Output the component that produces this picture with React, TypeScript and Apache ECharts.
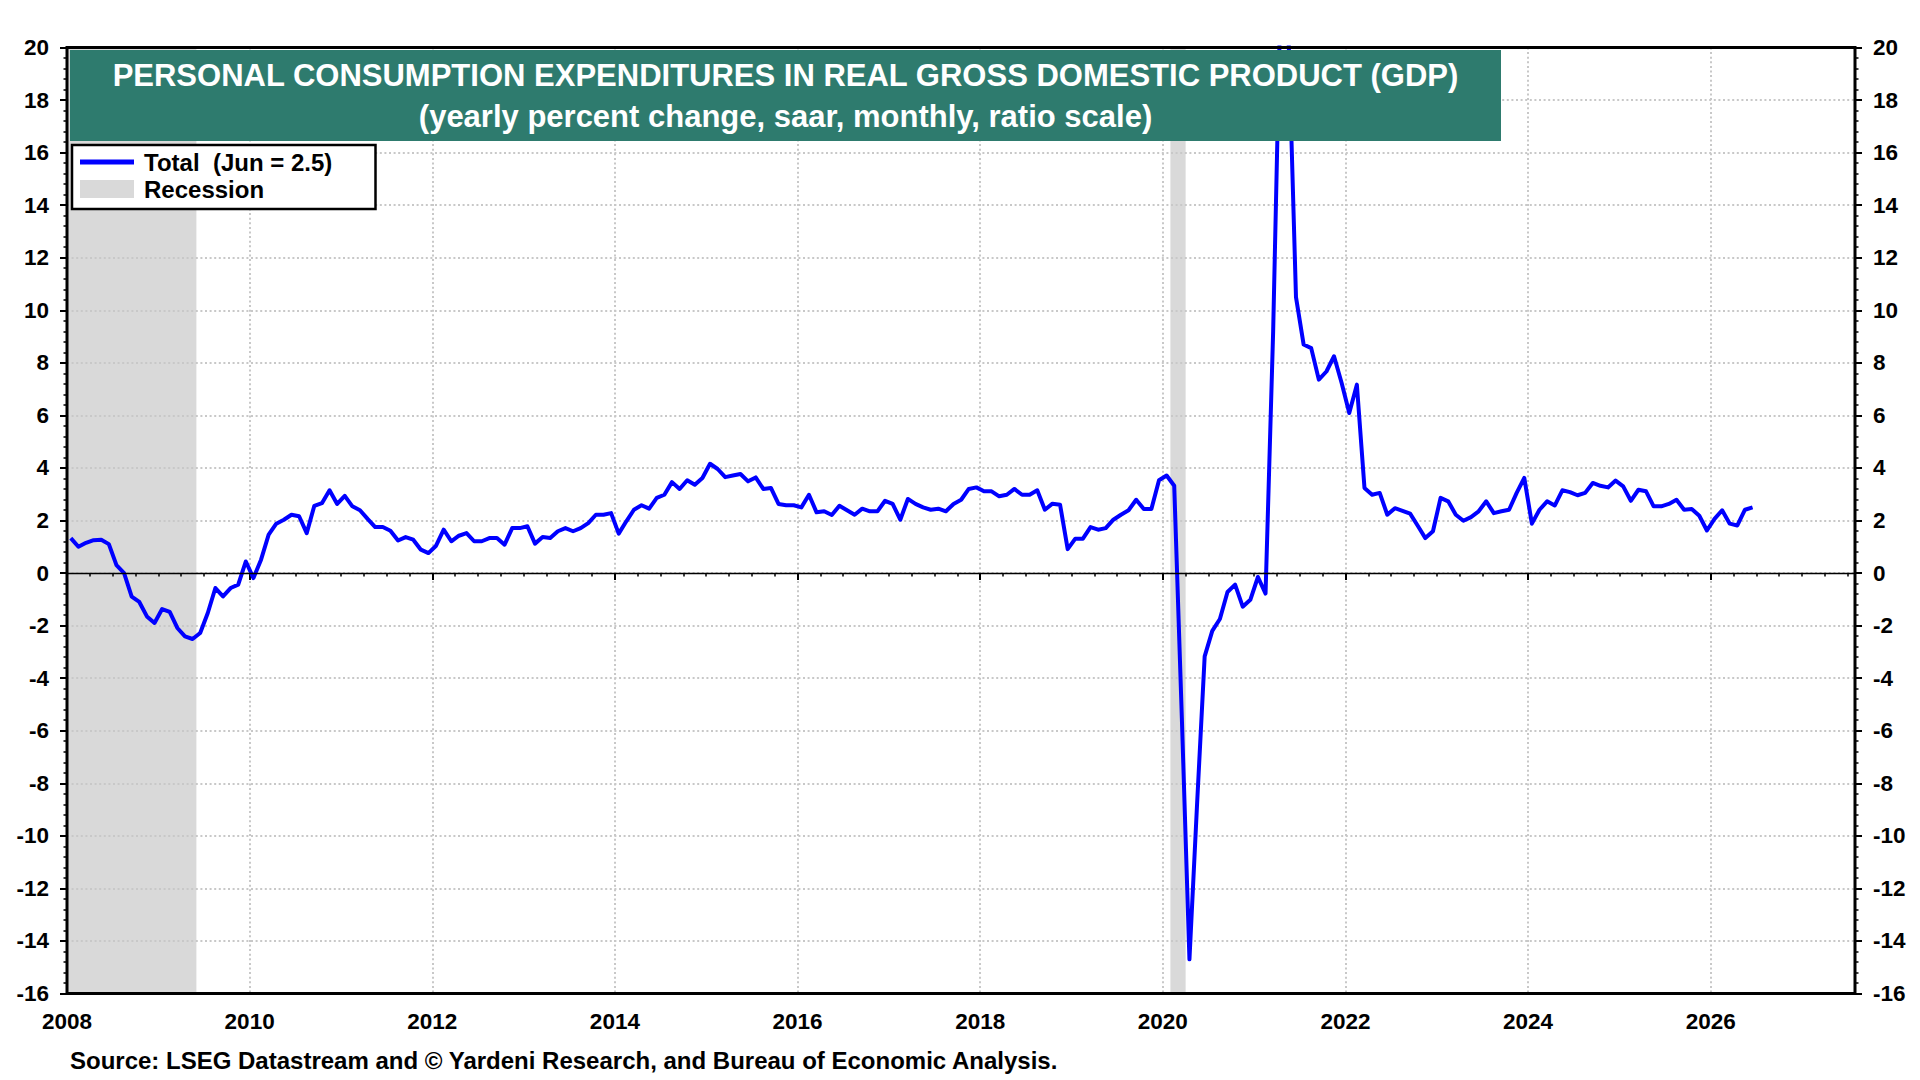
import React, { useEffect, useRef } from "react";
import * as echarts from "echarts";

// Monthly yearly % change, Jan..Dec of each year
const pce2008 = [1.33, 1.0, 1.15, 1.25, 1.27, 1.1, 0.3, 0.0, -0.9, -1.1, -1.65, -1.9];
const pce2009 = [-1.37, -1.48, -2.09, -2.41, -2.51, -2.28, -1.52, -0.57, -0.89, -0.57, -0.44, 0.44];
const pce2010 = [-0.19, 0.51, 1.46, 1.88, 2.03, 2.22, 2.16, 1.52, 2.56, 2.66, 3.15, 2.63];
const pce2011 = [2.94, 2.54, 2.39, 2.06, 1.75, 1.75, 1.61, 1.24, 1.37, 1.27, 0.89, 0.76];
const pce2012 = [1.04, 1.65, 1.21, 1.42, 1.52, 1.21, 1.21, 1.33, 1.33, 1.08, 1.71, 1.71];
const pce2013 = [1.78, 1.12, 1.37, 1.33, 1.59, 1.71, 1.59, 1.71, 1.9, 2.22, 2.22, 2.28];
const pce2014 = [1.5, 1.97, 2.41, 2.58, 2.45, 2.86, 2.98, 3.46, 3.2, 3.53, 3.36, 3.62];
const pce2015 = [4.16, 3.96, 3.65, 3.71, 3.77, 3.49, 3.64, 3.2, 3.24, 2.63, 2.58, 2.58];
const pce2016 = [2.5, 2.98, 2.31, 2.35, 2.21, 2.56, 2.39, 2.22, 2.45, 2.35, 2.35, 2.75];
const pce2017 = [2.63, 2.03, 2.82, 2.63, 2.5, 2.41, 2.45, 2.35, 2.63, 2.79, 3.2, 3.26];
const pce2018 = [3.11, 3.11, 2.92, 2.98, 3.2, 2.98, 2.98, 3.15, 2.41, 2.64, 2.6, 0.91];
const pce2019 = [1.31, 1.31, 1.75, 1.65, 1.71, 2.03, 2.22, 2.39, 2.79, 2.44, 2.44, 3.53];
const pce2020 = [3.71, 3.32, -5.5, -14.7, -8.8, -3.17, -2.2, -1.75, -0.72, -0.44, -1.28, -1.02];
const pce2021 = [-0.15, -0.78, 9.2, 22.4, 20.6, 10.5, 8.7, 8.56, 7.36, 7.67, 8.25, 7.23];
const pce2022 = [6.09, 7.17, 3.24, 2.98, 3.05, 2.22, 2.47, 2.37, 2.26, 1.8, 1.33, 1.59];
const pce2023 = [2.86, 2.73, 2.22, 1.99, 2.13, 2.35, 2.73, 2.28, 2.35, 2.41, 3.05, 3.62];
const pce2024 = [1.88, 2.41, 2.73, 2.57, 3.15, 3.08, 2.96, 3.05, 3.43, 3.32, 3.26, 3.52];
const pce2025 = [3.3, 2.75, 3.17, 3.11, 2.54, 2.54, 2.63, 2.79, 2.41, 2.44, 2.18, 1.62];
const pce2026 = [2.06, 2.39, 1.88, 1.81, 2.41, 2.5];

const startYear = 2008;
const yearlySeries = [
  pce2008, pce2009, pce2010, pce2011, pce2012, pce2013, pce2014, pce2015, pce2016, pce2017,
  pce2018, pce2019, pce2020, pce2021, pce2022, pce2023, pce2024, pce2025, pce2026,
];

// Recession periods (decimal years)
const recessionStart = [2008.0, 2020.083];
const recessionEnd = [2009.417, 2020.25];

const xMin = 2008;
const xMax = 2027.58;
const yMin = -16;
const yMax = 20;
const majorYears = [2008, 2010, 2012, 2014, 2016, 2018, 2020, 2022, 2024, 2026];

const TITLE1 = "PERSONAL CONSUMPTION EXPENDITURES IN REAL GROSS DOMESTIC PRODUCT (GDP)";
const TITLE2 = "(yearly percent change, saar, monthly, ratio scale)";
const LEGEND_LINE = "Total  (Jun = 2.5)";
const LEGEND_REC = "Recession";
const SOURCE = "Source: LSEG Datastream and \u00A9 Yardeni Research, and Bureau of Economic Analysis.";

const FONT = "'Liberation Sans', Arial, Helvetica, sans-serif";

function buildData(): [number, number][] {
  const out: [number, number][] = [];
  yearlySeries.forEach((vals, yi) => {
    vals.forEach((v, mi) => {
      out.push([startYear + yi + (mi + 0.5) / 12, v]);
    });
  });
  return out;
}

function quarterTicks(): number[] {
  const t: number[] = [];
  for (let q = xMin * 4; q <= Math.floor(xMax * 4); q++) {
    const v = q / 4;
    if (v % 2 !== 0) t.push(v);
  }
  return t;
}

export default function App() {
  const ref = useRef<HTMLDivElement>(null);

  useEffect(() => {
    if (!ref.current) return;
    const chart = echarts.init(ref.current, null, { renderer: "svg", width: 1920, height: 1080 });
    const dotted = { color: "#C8C8C8", width: 2, type: [2, 2.6] as any };
    const labelStyle = { fontSize: 22.5, fontWeight: "bold" as const, color: "#000", fontFamily: FONT };

    const option: any = {
      animation: false,
      backgroundColor: "#ffffff",
      grid: {
        left: 67, right: 65, top: 47.5, height: 946,
        show: true, borderColor: "#000", borderWidth: 3, backgroundColor: "transparent", z: 5,
      },
      xAxis: [
        {
          type: "value", min: xMin, max: xMax, interval: 2, position: "bottom", z: 2,
          axisLine: { show: false },
          axisTick: { show: true, length: 7, lineStyle: { color: "#000", width: 2 }, customValues: majorYears },
          axisLabel: { ...labelStyle, margin: 16, customValues: majorYears, formatter: (v: number) => String(v) },
          splitLine: { show: true, lineStyle: dotted },
        },
        {
          type: "value", min: xMin, max: xMax, position: "bottom", z: 2,
          axisLine: { show: false },
          axisTick: { show: true, length: 3.5, lineStyle: { color: "#000", width: 1.5 }, customValues: quarterTicks() },
          axisLabel: { show: false },
          splitLine: { show: false },
        },
      ],
      yAxis: [
        {
          type: "value", min: yMin, max: yMax, interval: 2, position: "left", z: 2,
          axisLine: { show: false },
          axisTick: { show: true, length: 7, lineStyle: { color: "#000", width: 2 } },
          minorTick: { show: true, splitNumber: 5, length: 3.5, lineStyle: { color: "#000", width: 1.5 } },
          axisLabel: { ...labelStyle, margin: 18 },
          splitLine: { show: true, lineStyle: dotted },
          minorSplitLine: { show: false },
        },
        {
          type: "value", min: yMin, max: yMax, interval: 2, position: "right", z: 2,
          axisLine: { show: false },
          axisTick: { show: true, length: 7, lineStyle: { color: "#000", width: 2 } },
          minorTick: { show: true, splitNumber: 5, length: 3.5, lineStyle: { color: "#000", width: 1.5 } },
          axisLabel: { ...labelStyle, margin: 18 },
          splitLine: { show: false },
        },
      ],
      series: [
        {
          name: "Recession", type: "line", data: [], z: 1, silent: true,
          markArea: {
            silent: true,
            itemStyle: { color: "#D9D9D9" },
            data: recessionStart.map((s, i) => [{ xAxis: s }, { xAxis: recessionEnd[i] }]),
          },
        },
        {
          name: "zero", type: "line", data: [], z: 3, silent: true,
          markLine: {
            silent: true, symbol: ["none", "none"], label: { show: false },
            lineStyle: { color: "#000", width: 1.3, type: "solid" },
            data: [{ yAxis: 0 }],
          },
        },
        {
          name: "Total", type: "line", data: buildData(), z: 4,
          showSymbol: false, symbol: "none", clip: true,
          lineStyle: { color: "#0000FF", width: 4, join: "round" },
        },
      ],
      graphic: [
        { type: "rect", z: 10, shape: { x: 70, y: 50, width: 1431, height: 91 }, style: { fill: "#2E7B6E" } },
        {
          type: "text", z: 11, x: 785.5, y: 75.5,
          style: { text: TITLE1, fill: "#fff", fontSize: 31, fontWeight: "bold", fontFamily: FONT, align: "center", verticalAlign: "middle" },
        },
        {
          type: "text", z: 11, x: 785.5, y: 116.5,
          style: { text: TITLE2, fill: "#fff", fontSize: 31, fontWeight: "bold", fontFamily: FONT, align: "center", verticalAlign: "middle" },
        },
        { type: "rect", z: 10, shape: { x: 72, y: 145, width: 303.5, height: 64 }, style: { fill: "#fff", stroke: "#000", lineWidth: 2.5 } },
        { type: "line", z: 11, shape: { x1: 80, y1: 162, x2: 134, y2: 162 }, style: { stroke: "#0000FF", lineWidth: 5 } },
        { type: "rect", z: 11, shape: { x: 80, y: 180, width: 54, height: 18 }, style: { fill: "#D9D9D9" } },
        {
          type: "text", z: 11, x: 144, y: 162,
          style: { text: LEGEND_LINE, fill: "#000", fontSize: 24, fontWeight: "bold", fontFamily: FONT, align: "left", verticalAlign: "middle" },
        },
        {
          type: "text", z: 11, x: 144, y: 189.5,
          style: { text: LEGEND_REC, fill: "#000", fontSize: 24, fontWeight: "bold", fontFamily: FONT, align: "left", verticalAlign: "middle" },
        },
        {
          type: "text", z: 11, x: 70, y: 1060,
          style: { text: SOURCE, fill: "#000", fontSize: 24, fontWeight: "bold", fontFamily: FONT, align: "left", verticalAlign: "middle" },
        },
      ],
    };

    chart.setOption(option);
    return () => chart.dispose();
  }, []);

  return (
    <div
      ref={ref}
      style={{ position: "fixed", left: 0, top: 0, width: 1920, height: 1080, background: "#fff" }}
    />
  );
}
